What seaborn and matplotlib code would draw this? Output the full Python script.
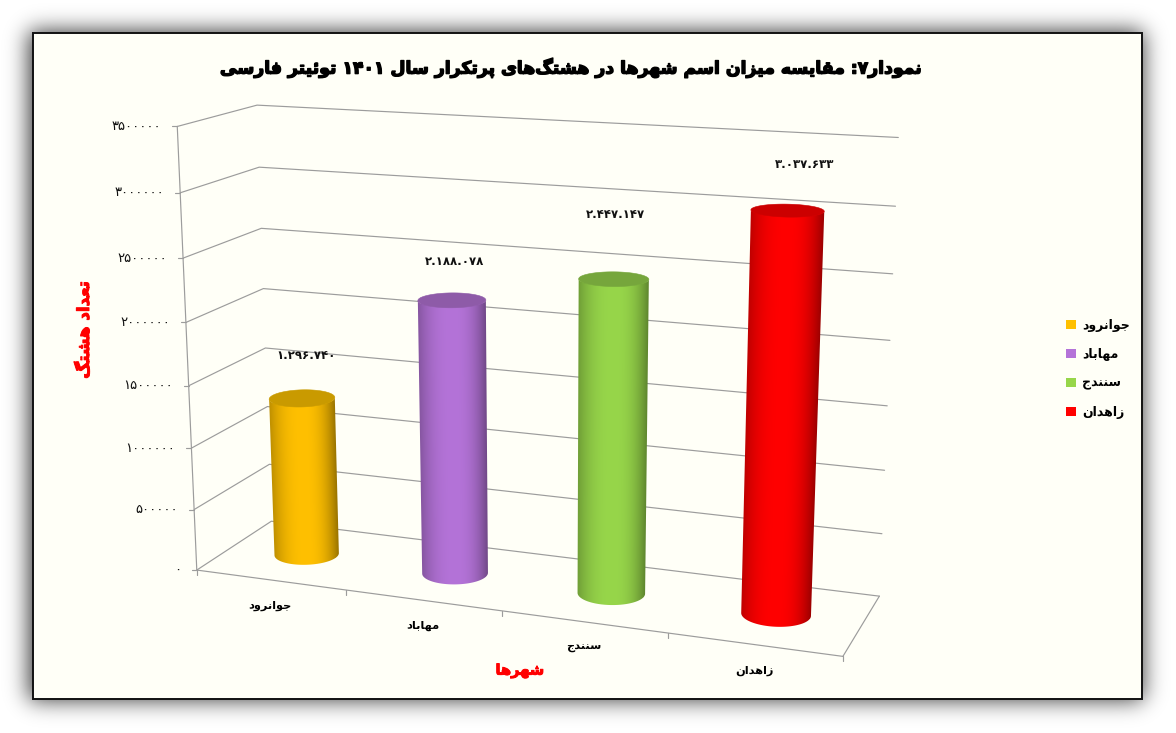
import math
import numpy as np
import pandas as pd
import matplotlib
matplotlib.use("Agg")
import matplotlib.pyplot as plt
import seaborn as sns
from matplotlib.patches import Patch, Polygon, Rectangle
from matplotlib.transforms import Transform
import matplotlib.patheffects as pe

# ---------- data ----------
cities = ["جوانرود", "مهاباد", "سنندج", "زاهدان"]
counts = [1296740, 2188078, 2447147, 3037633]
count_labels = ["۱.۲۹۶.۷۴۰", "۲.۱۸۸.۰۷۸", "۲.۴۴۷.۱۴۷", "۳.۰۳۷.۶۳۳"]
value_ticks = [0, 500000, 1000000, 1500000, 2000000, 2500000, 3000000, 3500000]
value_tick_labels = ["۰", "۵۰۰۰۰۰", "۱۰۰۰۰۰۰", "۱۵۰۰۰۰۰", "۲۰۰۰۰۰۰", "۲۵۰۰۰۰۰", "۳۰۰۰۰۰۰", "۳۵۰۰۰۰۰"]
body_colors = ["#FFC000", "#B473D8", "#97D64A", "#FF0000"]
cap_colors = ["#C99A00", "#8E5BA8", "#76A63C", "#CC0000"]
title_text = "نمودار۷: مقایسه میزان اسم شهرها در هشتگ‌های پرتکرار سال ۱۴۰۱ توئیتر فارسی"
x_title = "شهرها"
y_title = "تعداد هشتگ"
VMAX = value_ticks[-1]

# ---------- Persian shaping (matplotlib does no joining / bidi) ----------
DUAL = {"ب": 0xFE8F, "ت": 0xFE95, "ث": 0xFE99, "ج": 0xFE9D, "ح": 0xFEA1, "خ": 0xFEA5,
        "س": 0xFEB1, "ش": 0xFEB5, "ص": 0xFEB9, "ض": 0xFEBD, "ط": 0xFEC1, "ظ": 0xFEC5,
        "ع": 0xFEC9, "غ": 0xFECD, "ف": 0xFED1, "ق": 0xFED5, "ل": 0xFEDD, "م": 0xFEE1,
        "ن": 0xFEE5, "ه": 0xFEE9, "ئ": 0xFE89, "پ": 0xFB56, "چ": 0xFB7A, "ک": 0xFB8E,
        "گ": 0xFB92, "ی": 0xFBFC}
RIGHT = {"ا": 0xFE8D, "د": 0xFEA9, "ذ": 0xFEAB, "ر": 0xFEAD, "ز": 0xFEAF, "و": 0xFEED,
         "ژ": 0xFB8A, "ؤ": 0xFE85, "آ": 0xFE81}


def shape(text):
    n = len(text)
    out = []
    for i, c in enumerate(text):
        prev = text[i - 1] if i else ""
        nxt = text[i + 1] if i + 1 < n else ""
        joins_prev = prev in DUAL
        joins_next = c in DUAL and (nxt in DUAL or nxt in RIGHT)
        if c == "\u200c":
            continue
        if c in DUAL:
            form = (1 if joins_prev else 0) if not joins_next else (3 if joins_prev else 2)
            out.append(chr(DUAL[c] + form))
        elif c in RIGHT:
            out.append(chr(RIGHT[c] + (1 if joins_prev else 0)))
        else:
            out.append(c)
    vis = "".join(out)[::-1]
    res, run = [], []
    for c in vis:
        if "\u06f0" <= c <= "\u06f9":
            run.append(c)
        else:
            res.extend(run[::-1]); run = []
            res.append(c)
    res.extend(run[::-1])
    return "".join(res)


# ---------- theme ----------
sns.set_theme(style="white")
plt.rcParams["font.family"] = ["DejaVu Sans"]

W, H = 1176, 733
fig = plt.figure(figsize=(W / 100, H / 100), dpi=100, facecolor="white")
canvas = fig.add_axes([0, 0, 1, 1], zorder=0)
canvas.axis("off")

# ---------- camera: fitted from the box corners of the 3-D plot ----------
anchors = [
    ((0, 0, 0), (197, 570)), ((1, 0, 0), (843, 657)), ((1, 1, 0), (879, 596)),
    ((0, 1, 0), (272, 522)), ((0, 0, 1), (177, 127)), ((0, 1, 1), (257, 105)),
    ((1, 1, 1), (898, 137)), ((0, 0, 4 / 7), (187, 322)), ((0, 0, 1 / 7), (193, 509)),
    ((0, 1, 3 / 7), (265, 348)), ((1, 1, 1 / 7), (882, 533)), ((0, 1, 6 / 7), (259, 167)),
    ((1, 1, 6 / 7), (896, 207)),
]
A, b = [], []
for (u, w, v), (px, py) in anchors:
    A.append([u, w, v, 1, 0, 0, 0, 0, -px * u, -px * w, -px * v])
    b.append(px)
    A.append([0, 0, 0, 0, u, w, v, 1, -py * u, -py * w, -py * v])
    b.append(py)
cam = np.append(np.linalg.lstsq(np.array(A, float), np.array(b, float), rcond=None)[0], 1).reshape(3, 4)


def project(u, w, value):
    u, w, value = np.broadcast_arrays(u, w, np.asarray(value, float))
    p = np.stack([u, w, value / VMAX, np.ones_like(u, dtype=float)], axis=-1) @ cam.T
    return p[..., :2] / p[..., 2:3]


BAR_DEPTH = 0.5
DEPTH_RADIUS = 0.20


def cat_to_u(x):
    return (np.asarray(x) + 0.5) / len(cities)


class BarPlane(Transform):
    input_dims = output_dims = 2
    is_affine = False

    def transform_non_affine(self, xy):
        xy = np.asarray(xy, float)
        return project(cat_to_u(xy[:, 0]), BAR_DEPTH, xy[:, 1])


# ---------- frame and soft shadow ----------
L, T, R, B = 33, 33, 1142, 699
SIGMA = 11.0
erf = np.vectorize(math.erf)


def box_blur(c, lo, hi):
    return 0.5 * (erf((c - lo) / (SIGMA * 2 ** 0.5)) - erf((c - hi) / (SIGMA * 2 ** 0.5)))


xs, ys = np.arange(W) + 0.5, np.arange(H) + 0.5
shadow_alpha = 0.8 * np.outer(box_blur(ys, T - 2, B + 1), box_blur(xs, L - 4, R + 1))
shadow = np.zeros((H, W, 4))
shadow[..., 3] = shadow_alpha
canvas.imshow(shadow, extent=(0, W, H, 0), origin="upper", aspect="auto", zorder=1,
              interpolation="nearest")
canvas.set_xlim(0, W)
canvas.set_ylim(H, 0)
canvas.add_patch(Rectangle((L, T), R - L, B - T, fc="#FFFFF7", ec="#111111", lw=1.4, zorder=2))

# ---------- walls, floor, ticks ----------
GRID = "#9C9C9C"
GRID_LW = 0.85
for val, lab in zip(value_ticks, value_tick_labels):
    pts = np.array([project(0, 0, val), project(0, 1, val), project(1, 1, val)])
    canvas.plot(pts[:, 0], pts[:, 1], color=GRID, lw=GRID_LW, zorder=3)
    p0 = pts[0]
    canvas.plot([p0[0] - 5, p0[0]], [p0[1], p0[1]], color=GRID, lw=GRID_LW, zorder=3)
    canvas.text(p0[0] - 16, p0[1], lab, ha="right", va="center", fontsize=9.5,
                color="#111111", zorder=4)
for a, c in [((0, 0, 0), (0, 0, VMAX)), ((0, 0, 0), (1, 0, 0)), ((1, 0, 0), (1, 1, 0))]:
    p = np.array([project(*a), project(*c)])
    canvas.plot(p[:, 0], p[:, 1], color=GRID, lw=GRID_LW, zorder=3)
for k in range(len(cities) + 1):
    p = project(k / len(cities), 0, 0)
    canvas.plot([p[0], p[0]], [p[1], p[1] + 5], color=GRID, lw=GRID_LW, zorder=3)
for i, name in enumerate(cities):
    p = project(cat_to_u(i), 0, 0)
    canvas.text(p[0], p[1] + 26, shape(name), ha="center", va="center",
                fontsize=8.2, fontweight="bold", color="black", zorder=4)

# ---------- bars ----------
df = pd.DataFrame({"city": cities, "count": counts})
ax = fig.add_axes([0, 0, 1, 1], zorder=1)
ax.patch.set_visible(False)
sns.barplot(data=df, x="city", y="count", hue="city", palette=body_colors, width=0.40,
            saturation=1, legend=False, dodge=False, ax=ax)
ax.axis("off")
to_px = BarPlane() + canvas.transData
bars = [b_ for b_ in ax.patches if b_.get_height() > 0]
theta = np.linspace(0, 2 * np.pi, 361)
for bar, body, cap in zip(bars, body_colors, cap_colors):
    bar.set_transform(to_px)
    bar.set_clip_on(False)
    bar.set_edgecolor("none")
    bar.set_zorder(2)
    uc = cat_to_u(bar.get_x() + bar.get_width() / 2)
    ru = bar.get_width() / 2 / len(cities)
    us = uc + ru * np.cos(theta)
    ws = BAR_DEPTH + DEPTH_RADIUS * np.sin(theta)
    low = project(us, ws, 0)
    high = project(us, ws, bar.get_height())
    # front arc of the base between the two silhouette edges
    i_l, i_r = low[:-1, 0].argmin(), low[:-1, 0].argmax()
    a, c = sorted((i_l, i_r))
    arc1 = np.arange(a, c + 1)
    arc2 = np.r_[np.arange(c, 360), np.arange(0, a + 1)]
    arc = arc1 if low[arc1, 1].mean() > low[arc2, 1].mean() else arc2
    # silhouette: base front arc + left/right edges + top outline
    j_l, j_r = high[:-1, 0].argmin(), high[:-1, 0].argmax()
    a2, c2 = sorted((j_l, j_r))
    top1 = np.arange(a2, c2 + 1)
    top2 = np.r_[np.arange(c2, 360), np.arange(0, a2 + 1)]
    top_arc = top1 if high[top1, 1].mean() > high[top2, 1].mean() else top2
    lo_pts, hi_pts = low[arc], high[top_arc]
    if lo_pts[0, 0] > lo_pts[-1, 0]:
        lo_pts = lo_pts[::-1]
    if hi_pts[0, 0] < hi_pts[-1, 0]:
        hi_pts = hi_pts[::-1]
    outline = np.vstack([lo_pts, hi_pts])

    # gradient across the cylinder, following its tilt
    x0, x1 = outline[:, 0].min() - 2, outline[:, 0].max() + 2
    y0, y1 = outline[:, 1].min() - 2, outline[:, 1].max() + 2
    gx = np.linspace(x0, x1, int((x1 - x0) * 2))
    gy = np.linspace(y0, y1, int(y1 - y0))
    y_low, y_high = low[i_l, 1], high[j_l, 1]
    frac = ((gy - y_low) / (y_high - y_low))[:, None]
    left = low[i_l, 0] + frac * (high[j_l, 0] - low[i_l, 0])
    right = low[i_r, 0] + frac * (high[j_r, 0] - low[i_r, 0])
    t = np.clip((gx[None, :] - (left + right) / 2) / ((right - left) / 2), -1, 1)
    depth = np.where(t > 0, 0.40, 0.25)
    shade = 1 - depth * np.abs(t) ** 2.4
    rgb = np.array(matplotlib.colors.to_rgb(body))[None, None, :] * shade[..., None]
    im = ax.imshow(rgb, extent=(x0, x1, y1, y0), origin="upper", aspect="auto",
                   interpolation="bilinear", transform=canvas.transData, zorder=3)
    im.set_clip_path(Polygon(outline, closed=True, transform=canvas.transData))
    ax.add_patch(Polygon(high[:-1], closed=True, fc=cap, ec=cap, lw=0.4,
                         transform=canvas.transData, zorder=4, clip_on=False))

# ---------- value labels ----------
label_nudges = [(4, -43), (3, -39), (2, -65), (17, -46)]
for bar, lab, (dx, dy) in zip(bars, count_labels, label_nudges):
    p = project(cat_to_u(bar.get_x() + bar.get_width() / 2), BAR_DEPTH, bar.get_height())
    ax.text(p[0] + dx, p[1] + dy, lab, ha="center", va="center", fontsize=8.5, fontweight="bold",
            color="#111111", transform=canvas.transData, zorder=5, clip_on=False)

# ---------- titles ----------
canvas.text(572, 68, shape(title_text), ha="center", va="center", fontsize=12.4,
            fontweight="bold", color="black", zorder=5,
            path_effects=[pe.withStroke(linewidth=1.0, foreground="black")])
red_stroke = [pe.withStroke(linewidth=0.7, foreground="#FF0000")]
canvas.text(520, 671, shape(x_title), ha="center", va="center", fontsize=10.5,
            fontweight="bold", color="#FF0000", zorder=5, path_effects=red_stroke)
canvas.text(84, 330, shape(y_title), ha="center", va="center", fontsize=12, rotation=90,
            fontweight="bold", color="#FF0000", zorder=5, path_effects=red_stroke)

# ---------- legend ----------
handles = [Patch(fc=c, ec="none", label=shape(n)) for c, n in zip(body_colors, cities)]
fig.legend(handles=handles, loc="center left", bbox_to_anchor=(1055 / W, 1 - 369 / H),
           frameon=False, handlelength=0.78, handleheight=0.78, handletextpad=0.5,
           labelspacing=1.27, prop={"size": 9, "weight": "bold"}, labelcolor="black")

fig.savefig("out.png", dpi=100, facecolor="white")
